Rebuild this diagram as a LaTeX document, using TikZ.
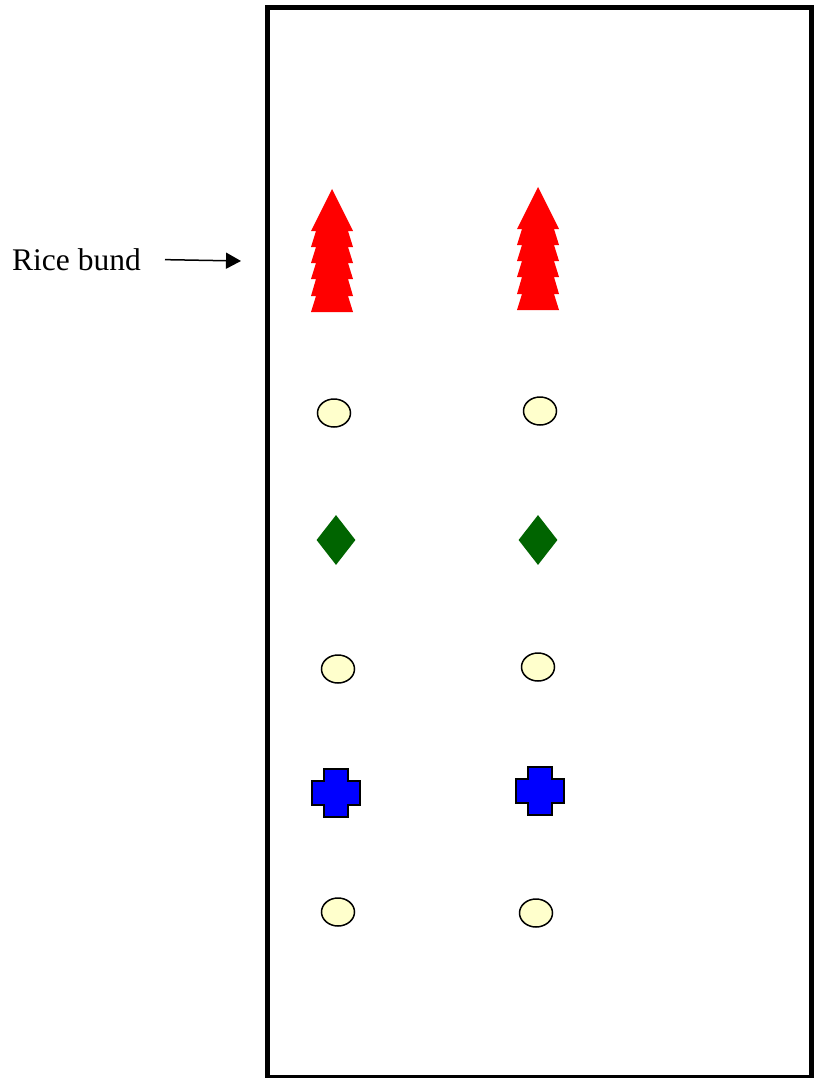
\documentclass[tikz,border=0pt]{standalone}
\usepackage{fontspec}
\setmainfont{Liberation Serif}
\usetikzlibrary{shapes.geometric,arrows.meta}

\definecolor{pondyellow}{HTML}{FFFFCC}
\definecolor{leafgreen}{HTML}{006400}

\begin{document}
\begin{tikzpicture}[x=1pt,y=-1pt,
    plant/.style={ellipse,draw,line width=1.5pt,fill=pondyellow,minimum width=33pt,minimum height=28pt,inner sep=0pt},
    leaf/.style={diamond,fill=leafgreen,minimum width=39pt,minimum height=50pt,inner sep=0pt},
    tree/.pic={\fill[red] (0,0) -- (21,42) -- (16,42) -- (21,58) -- (16,58) -- (21,74) -- (16,74)
        -- (21,90) -- (16,90) -- (21,107) -- (16,107) -- (21,123) -- (-21,123) -- (-16,107)
        -- (-21,107) -- (-16,90) -- (-21,90) -- (-16,74) -- (-21,74) -- (-16,58) -- (-21,58)
        -- (-16,42) -- (-21,42) -- cycle;},
    plus/.pic={\filldraw[fill=blue,line width=1.5pt] (-12,-24) -- (12,-24) -- (12,-12) -- (24,-12)
        -- (24,12) -- (12,12) -- (12,24) -- (-12,24) -- (-12,12) -- (-24,12) -- (-24,-12)
        -- (-12,-12) -- cycle;}]

	\useasboundingbox (0,0) rectangle (817,1078);
	\draw[line width=4.5pt] (267.5,7.5) rectangle (811.5,1077);

	% left row
	\pic at (332,189) {tree};
	\node[plant] (p1) at (334,413) {};
	\node[leaf] (l1) at (336,540) {};
	\node[plant] (p2) at (338,669) {};
	\pic at (336,793) {plus};
	\node[plant] (p3) at (338,912) {};

	% right row
	\pic at (538,187) {tree};
	\node[plant] (p4) at (540,411) {};
	\node[leaf] (l2) at (538,540) {};
	\node[plant] (p5) at (538,667) {};
	\pic at (540,791) {plus};
	\node[plant] (p6) at (536,913) {};

	% label
	\node[anchor=base west,inner sep=0pt,font=\fontsize{31.5}{36}\selectfont] (bund) at (12,270) {Rice bund};
	\coordinate (bundtip) at (241,261);
	\draw[-{Triangle[length=15pt,width=16pt]},line width=1.5pt,shorten <=24pt] (bund.east) -- (bundtip);

\end{tikzpicture}
\end{document}
